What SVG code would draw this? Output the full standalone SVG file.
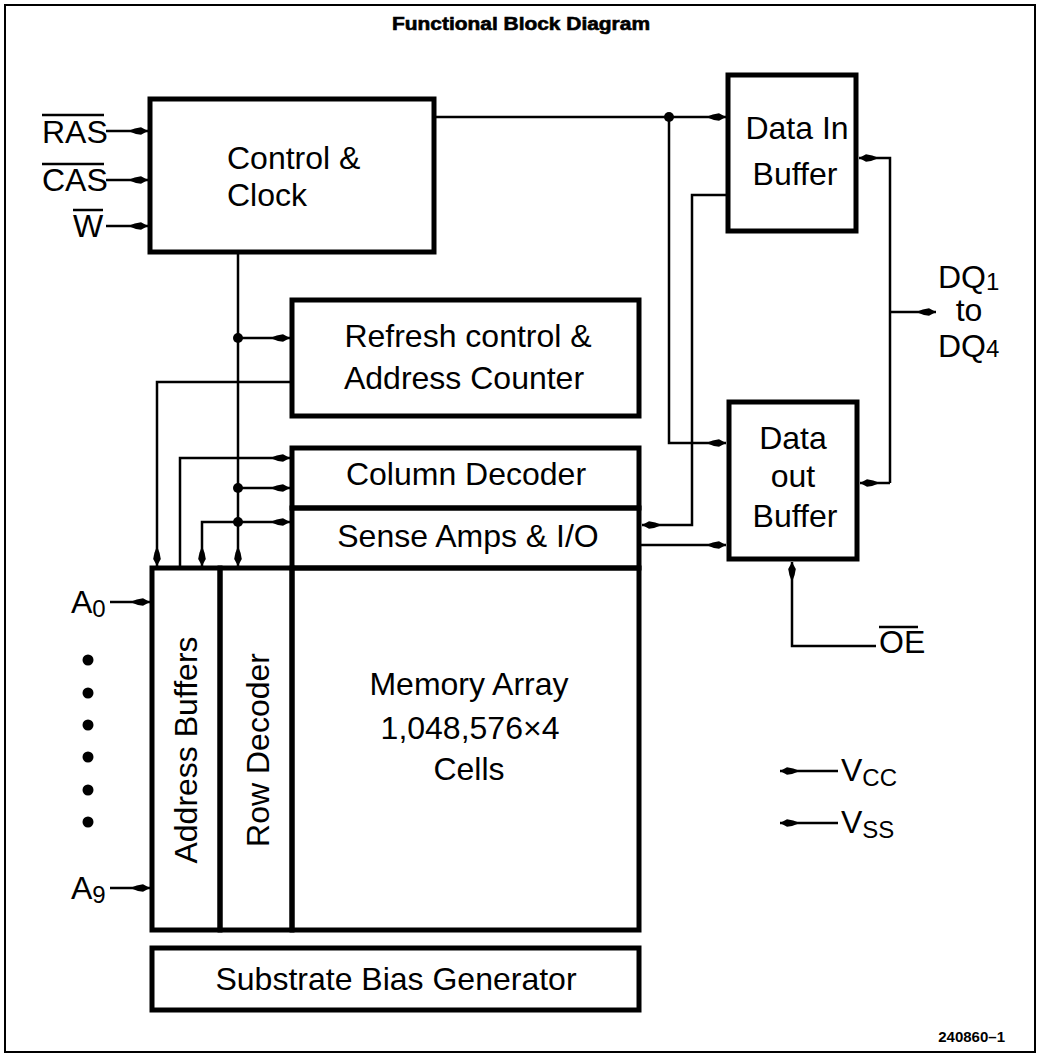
<svg xmlns="http://www.w3.org/2000/svg" width="1039" height="1055" viewBox="0 0 1039 1055">
<style>
.box{fill:none;stroke:#000;stroke-width:5}
.ln{fill:none;stroke:#000;stroke-width:2.5}
.t{font-family:"Liberation Sans",Arial,sans-serif;font-size:32px;fill:#000}
.s{font-family:"Liberation Sans",Arial,sans-serif;font-size:24px;fill:#000}
.ol{stroke:#000;stroke-width:2.5}
</style>
<defs>
<marker id="arr" viewBox="-21 -5 22 10" refX="0" refY="0" markerWidth="22" markerHeight="10" orient="auto" markerUnits="userSpaceOnUse">
<path d="M0,0 L-7,-3.8 Q-13,-3.2 -20,0 Q-13,3.2 -7,3.8 Z" fill="#000"/>
</marker>
</defs>
<rect x="0" y="0" width="1039" height="1055" fill="#fff"/>
<rect x="5" y="5" width="1030" height="1047" fill="none" stroke="#000" stroke-width="2"/>
<text x="521" y="30" text-anchor="middle" font-family="Liberation Sans,Arial,sans-serif" font-weight="bold" font-size="18" textLength="258" lengthAdjust="spacingAndGlyphs" stroke="#000" stroke-width="0.6">Functional Block Diagram</text>

<g id="control-clock">
<rect class="box" x="150" y="99" width="284" height="153"/>
<text class="t" x="227" y="169">Control &amp;</text>
<text class="t" x="227" y="206">Clock</text>
</g>
<g id="data-in-buffer">
<rect class="box" x="728" y="75" width="128" height="156"/>
<text class="t" x="797" y="139" text-anchor="middle">Data In</text>
<text class="t" x="795" y="185" text-anchor="middle">Buffer</text>
</g>
<g id="refresh-control">
<rect class="box" x="292" y="300" width="347" height="116"/>
<text class="t" x="468" y="347" text-anchor="middle">Refresh control &amp;</text>
<text class="t" x="464" y="389" text-anchor="middle">Address Counter</text>
</g>
<g id="column-decoder">
<rect class="box" x="292" y="448" width="347" height="60"/>
<text class="t" x="466" y="485" text-anchor="middle">Column Decoder</text>
</g>
<g id="sense-amps">
<rect class="box" x="292" y="508" width="347" height="60"/>
<text class="t" x="468" y="547" text-anchor="middle">Sense Amps &amp; I/O</text>
</g>
<g id="address-buffers">
<rect class="box" x="152" y="568" width="68" height="362"/>
<text class="t" transform="translate(197,750) rotate(-90)" text-anchor="middle">Address Buffers</text>
</g>
<g id="row-decoder">
<rect class="box" x="220" y="568" width="72" height="362"/>
<text class="t" transform="translate(269,750) rotate(-90)" text-anchor="middle">Row Decoder</text>
</g>
<g id="memory-array">
<rect class="box" x="292" y="568" width="347" height="362"/>
<text class="t" x="469" y="695" text-anchor="middle">Memory Array</text>
<text class="t" x="470" y="739" text-anchor="middle">1,048,576×4</text>
<text class="t" x="469" y="780" text-anchor="middle">Cells</text>
</g>
<g id="data-out-buffer">
<rect class="box" x="729" y="402" width="128" height="157"/>
<text class="t" x="793" y="449" text-anchor="middle">Data</text>
<text class="t" x="793" y="487" text-anchor="middle">out</text>
<text class="t" x="795" y="527" text-anchor="middle">Buffer</text>
</g>
<g id="substrate-bias">
<rect class="box" x="152" y="948" width="487" height="62"/>
<text class="t" x="396" y="990" text-anchor="middle">Substrate Bias Generator</text>
</g>

<g id="labels">
<text class="t" x="42" y="143">RAS</text>
<line class="ol" x1="42" y1="115" x2="104" y2="115"/>
<text class="t" x="42" y="191">CAS</text>
<line class="ol" x1="42" y1="164" x2="104" y2="164"/>
<text class="t" x="73" y="237">W</text>
<line class="ol" x1="73" y1="210" x2="103" y2="210"/>
<text class="t" x="71" y="613">A<tspan class="s" dy="4">0</tspan></text>
<text class="t" x="71" y="899">A<tspan class="s" dy="4">9</tspan></text>
<text class="t" x="938" y="288">DQ<tspan class="s" dy="2">1</tspan></text>
<text class="t" x="969" y="321" text-anchor="middle">to</text>
<text class="t" x="938" y="357">DQ<tspan class="s" dy="0">4</tspan></text>
<text class="t" x="879" y="653">OE</text>
<line class="ol" x1="879" y1="627" x2="918" y2="627"/>
<text class="t" x="841" y="781">V<tspan class="s" dy="5">CC</tspan></text>
<text class="t" x="841" y="833">V<tspan class="s" dy="5">SS</tspan></text>
<text x="1005" y="1042" text-anchor="end" font-family="Liberation Sans,Arial,sans-serif" font-weight="bold" font-size="15">240860–1</text>
<circle cx="88" cy="660" r="5.5"/>
<circle cx="88" cy="693" r="5.5"/>
<circle cx="88" cy="725" r="5.5"/>
<circle cx="88" cy="757" r="5.5"/>
<circle cx="88" cy="790" r="5.5"/>
<circle cx="88" cy="822" r="5.5"/>
</g>

<g id="connectors">
<path class="ln" d="M106,131 H148" marker-end="url(#arr)"/>
<path class="ln" d="M106,180 H148" marker-end="url(#arr)"/>
<path class="ln" d="M106,226 H148" marker-end="url(#arr)"/>
<path class="ln" d="M434,117 H726" marker-end="url(#arr)"/>
<circle cx="669" cy="117" r="5"/>
<path class="ln" d="M669,117 V443 H726" marker-end="url(#arr)"/>
<path class="ln" d="M726,195 H692 V525 H642" marker-end="url(#arr)"/>
<path class="ln" d="M641,545 H726" marker-end="url(#arr)"/>
<path class="ln" d="M890,483 V158 H859" marker-end="url(#arr)"/>
<path class="ln" d="M890,483 H860" marker-end="url(#arr)"/>
<path class="ln" d="M890,312 H936" marker-end="url(#arr)"/>
<path class="ln" d="M238,252 V566" marker-end="url(#arr)"/>
<circle cx="238" cy="338" r="5"/>
<circle cx="238" cy="488" r="5"/>
<circle cx="238" cy="522" r="5"/>
<path class="ln" d="M238,338 H290" marker-end="url(#arr)"/>
<path class="ln" d="M290,382 H157 V566" marker-end="url(#arr)"/>
<path class="ln" d="M180,566 V458 H290" marker-end="url(#arr)"/>
<path class="ln" d="M238,488 H290" marker-end="url(#arr)"/>
<path class="ln" d="M238,522 H290" marker-end="url(#arr)"/>
<path class="ln" d="M238,522 H202 V566" marker-end="url(#arr)"/>
<path class="ln" d="M110,602 H150" marker-end="url(#arr)"/>
<path class="ln" d="M110,888 H150" marker-end="url(#arr)"/>
<path class="ln" d="M876,646 H792 V562" marker-end="url(#arr)"/>
<path class="ln" d="M838,771 H780" marker-end="url(#arr)"/>
<path class="ln" d="M838,823 H780" marker-end="url(#arr)"/>
</g>
</svg>
